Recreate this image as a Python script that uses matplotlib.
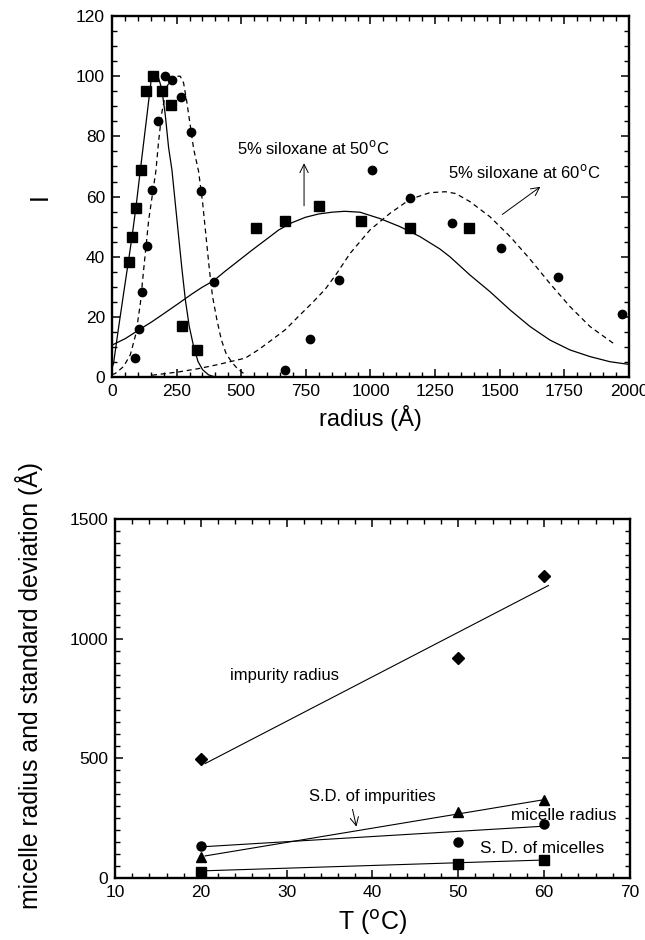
import numpy as np
import matplotlib
matplotlib.use('Agg')
import matplotlib.pyplot as plt
from matplotlib.ticker import MultipleLocator

plt.rcParams['font.family'] = ['Liberation Sans', 'DejaVu Sans']

# ---------- datos panel superior (radio vs I) ----------
# cuadrados (50 C)
sq_r = [66, 77, 92, 111, 133, 160, 192, 230, 272, 329, 558, 669, 801, 962, 1153, 1382]
sq_i = [38.3, 46.4, 56.3, 68.8, 95.2, 100, 95.2, 90.3, 16.9, 9.1, 49.7, 51.9, 57, 51.9, 49.4, 49.4]
# circulos (60 C)
ci_r = [89, 103, 117, 134, 155, 178, 204, 233, 266, 304, 344, 395, 671, 767, 879, 1006,
        1152, 1317, 1506, 1725, 1974]
ci_i = [6.3, 16, 28.4, 43.6, 62.1, 85.2, 100, 98.6, 93, 81.5, 61.8, 31.6, 2.2, 12.6, 32.4,
        68.8, 59.6, 51.2, 43, 33.4, 20.9]

# curvas ajustadas
sol1_r = [0, 6, 26, 45, 64, 77, 93, 110, 135, 152, 165, 180, 193, 206, 219, 232, 245, 258,
          271, 284, 299, 316, 333, 351, 374, 400]
sol1_i = [3, 4.5, 16.7, 27.8, 38.7, 46.3, 56.6, 69, 86.8, 99, 100, 99.5, 95.6, 87.3, 76.3,
          68.8, 57.7, 46.6, 35.6, 25.6, 16.8, 10.1, 5.1, 2.4, 0.7, 0]
sol2_r = [0, 52, 103, 155, 206, 258, 309, 348, 393, 438, 490, 542, 593, 645, 696, 748, 799,
          851, 900, 959, 1036, 1114, 1191, 1268, 1307, 1385, 1462, 1540, 1617, 1694, 1772,
          1849, 1926, 2000]
sol2_i = [10.6, 12.8, 15.6, 18.4, 21.4, 24.5, 27.6, 29.8, 32, 35.2, 38.7, 42.2, 45.5, 48.9,
          51.3, 53.1, 54.2, 54.8, 55.1, 54.8, 52.7, 50, 46.7, 42.6, 40, 33.9, 28.4, 22.3,
          16.8, 12.3, 9, 6.8, 5.1, 4.2]
das1_r = [0, 13, 45, 71, 93, 110, 125, 142, 170, 180, 193, 213, 239, 264, 277, 290, 303,
          316, 335, 351, 364, 377, 389, 406, 423, 441, 462, 484, 509]
das1_i = [0.8, 1.2, 3.5, 7.4, 14.5, 24.6, 37.8, 52.2, 68.6, 78, 88, 96.7, 100, 100, 97.8,
          91.2, 83.5, 75.8, 68.4, 57.7, 46.6, 35.6, 26.8, 19, 12.4, 7.9, 5.1, 2.9, 1.2]
das2_r = [155, 258, 335, 413, 516, 567, 619, 670, 722, 774, 825, 870, 921, 998, 1075, 1153,
          1230, 1290, 1330, 1385, 1462, 1540, 1617, 1694, 1772, 1849, 1946]
das2_i = [0.6, 1.7, 2.8, 4.2, 6.3, 9.1, 12.4, 15.7, 20.2, 24.6, 29.2, 34.5, 41.1, 48.9, 54.4,
          59.1, 61.3, 61.6, 61.0, 58.3, 53.3, 46.7, 39.2, 31.1, 23.4, 16.8, 10.8]

# ---------- datos panel inferior (T vs radio) ----------
T = [20, 50, 60]
imp_rad = [498, 921, 1263]
sd_imp = [88, 274, 324]
mic_rad = [132, 149, 224]
sd_mic = [25, 58, 74]
# rectas ajustadas (extremos)
fit_imp_T, fit_imp = [20.5, 60.5], [478, 1222]
fit_sdimp_T, fit_sdimp = [20.5, 59.8], [92, 326]
fit_mic_T, fit_mic = [20.5, 60.3], [131, 217]
fit_sdmic_T, fit_sdmic = [20.5, 60.0], [30, 75]

fig = plt.figure(figsize=(6.45, 9.4), dpi=100)

def estilo(ax):
  for s in ax.spines.values():
    s.set_linewidth(1.7)
  ax.tick_params(which='both', direction='in', top=True, right=True, labelsize=12.5, pad=5)
  ax.tick_params(which='major', length=6, width=1.1)
  ax.tick_params(which='minor', length=3.5, width=1.0)

flecha = dict(arrowstyle='->', lw=0.7, color='k', mutation_scale=15)

# ----- panel superior -----
ax1 = fig.add_axes([0.1736, 0.5989, 0.8016, 0.384])
ax1.plot(sol1_r, sol1_i, 'k-', lw=0.9)
ax1.plot(sol2_r, sol2_i, 'k-', lw=0.9)
ax1.plot(das1_r, das1_i, 'k--', lw=0.9, dashes=(4, 3))
ax1.plot(das2_r, das2_i, 'k--', lw=0.9, dashes=(4, 3))
ax1.plot(sq_r, sq_i, 'ks', ms=6.5, ls='none')
ax1.plot(ci_r, ci_i, 'ko', ms=6, ls='none')
ax1.set_xlim(0, 2000)
ax1.set_ylim(0, 120)
ax1.xaxis.set_major_locator(MultipleLocator(250))
ax1.xaxis.set_minor_locator(MultipleLocator(50))
ax1.yaxis.set_major_locator(MultipleLocator(20))
ax1.yaxis.set_minor_locator(MultipleLocator(5))
estilo(ax1)
ax1.set_xlabel('radius (Å)', fontsize=17, labelpad=4)
ax1.set_ylabel('I', fontsize=18)
ax1.yaxis.set_label_coords(-0.116, 0.5)
ax1.text(485, 76, '5% siloxane at 50$^{\\mathrm{o}}$C', fontsize=12, va='center', ha='left')
ax1.annotate('', xy=(743, 72), xytext=(743, 56), arrowprops=flecha)
ax1.text(1299, 68.3, '5% siloxane at 60$^{\\mathrm{o}}$C', fontsize=12, va='center', ha='left')
ax1.annotate('', xy=(1666, 63.8), xytext=(1501, 53.5), arrowprops=flecha)

# ----- panel inferior -----
ax2 = fig.add_axes([0.1783, 0.066, 0.7984, 0.3819])
ax2.plot(fit_imp_T, fit_imp, 'k-', lw=0.8)
ax2.plot(fit_sdimp_T, fit_sdimp, 'k-', lw=0.8)
ax2.plot(fit_mic_T, fit_mic, 'k-', lw=0.8)
ax2.plot(fit_sdmic_T, fit_sdmic, 'k-', lw=0.8)
ax2.plot(T, imp_rad, 'kD', ms=6, ls='none')
ax2.plot(T, sd_imp, 'k^', ms=7, ls='none')
ax2.plot(T, mic_rad, 'ko', ms=6.5, ls='none')
ax2.plot(T, sd_mic, 'ks', ms=7, ls='none')
ax2.set_xlim(10, 70)
ax2.set_ylim(0, 1500)
ax2.xaxis.set_major_locator(MultipleLocator(10))
ax2.xaxis.set_minor_locator(MultipleLocator(2))
ax2.yaxis.set_major_locator(MultipleLocator(500))
ax2.yaxis.set_minor_locator(MultipleLocator(50))
estilo(ax2)
ax2.set_xlabel('T ($^{\\mathrm{o}}$C)', fontsize=18, labelpad=6)
ax2.set_ylabel('micelle radius and standard deviation (Å)', fontsize=17.8)
ax2.yaxis.set_label_coords(-0.14, 0.535)
ax2.text(23.4, 844, 'impurity radius', fontsize=12, va='center', ha='left')
ax2.text(32.6, 340, 'S.D. of impurities', fontsize=12, va='center', ha='left')
ax2.annotate('', xy=(38.2, 203), xytext=(37.6, 298), arrowprops=flecha)
ax2.text(56.1, 263, 'micelle radius', fontsize=12.3, va='center', ha='left')
ax2.text(52.5, 124, 'S. D. of micelles', fontsize=12.3, va='center', ha='left')

fig.savefig('out.png', dpi=100)
